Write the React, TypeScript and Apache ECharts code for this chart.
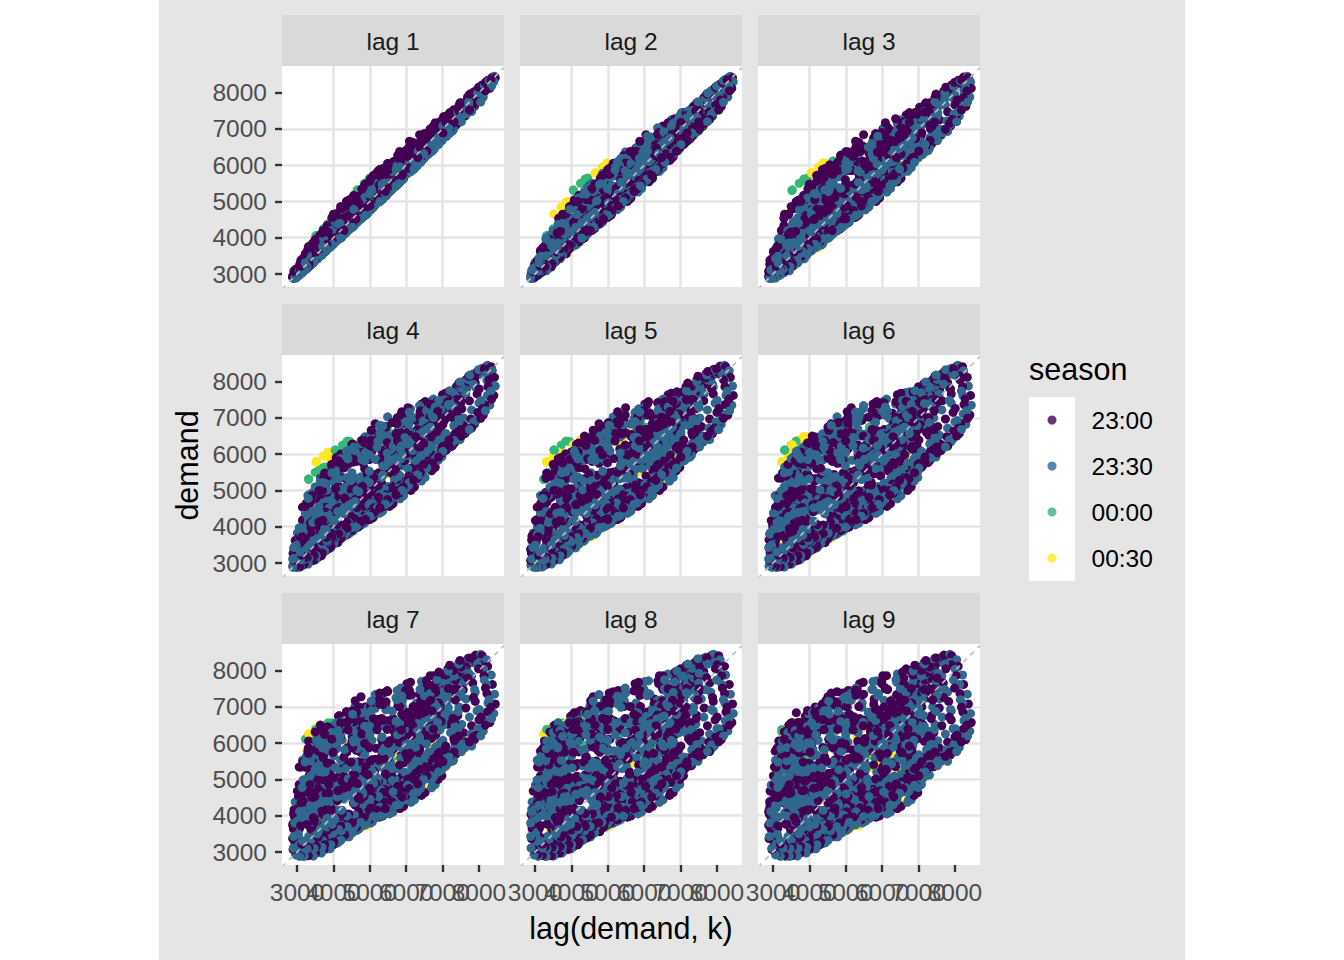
import React, { useEffect, useRef } from 'react'
import * as echarts from 'echarts'

// legend levels and their viridis colours
const SEASONS = ['23:00', '23:30', '00:00', '00:30']
const SEASON_COLORS = ['#440154', '#31688E', '#35B779', '#FDE725']
const LAGS = [1, 2, 3, 4, 5, 6, 7, 8, 9]
const TICKS = [3000, 4000, 5000, 6000, 7000, 8000]

// half-hourly demand, one array per day (00:00 ... 23:30)
const day01 = [4300, 4150, 4060, 3900, 3820, 3680, 3610, 3490, 3430, 3330, 3300, 3260, 3310, 3380, 3560, 3700, 3950, 4120, 4380, 4530,
  4720, 4800, 4960, 4930, 5060, 5010, 5130, 5080, 5170, 5110, 5200, 5150, 5290, 5380, 5420, 5340, 5200,
  5010, 4850, 4660, 4500, 4330, 4190, 4040, 3920, 3790, 3680, 3570]
const day02 = [3450, 3340, 3280, 3170, 3120, 3030, 3000, 2940, 2920, 2900, 2890, 2910, 2990, 3080, 3270, 3400, 3640, 3790, 4040, 4180,
  4390, 4460, 4610, 4580, 4700, 4650, 4760, 4700, 4780, 4720, 4800, 4750, 4900, 4990, 5050, 4980, 4850,
  4670, 4510, 4340, 4200, 4050, 3920, 3790, 3680, 3560, 3460, 3370]
const day03 = [3270, 3190, 3150, 3080, 3050, 2990, 2980, 2930, 2940, 2920, 2950, 3010, 3150, 3330, 3620, 3830, 4170, 4380, 4680, 4850,
  5100, 5150, 5330, 5290, 5440, 5380, 5510, 5450, 5560, 5490, 5590, 5530, 5700, 5820, 5880, 5800, 5640,
  5420, 5220, 5020, 4840, 4660, 4500, 4350, 4210, 4080, 3960, 3850]
const day04 = [3760, 3680, 3640, 3570, 3550, 3490, 3490, 3440, 3460, 3440, 3520, 3640, 3950, 4260, 4820, 5150, 5680, 5900, 6200, 6320,
  6480, 6450, 6560, 6500, 6600, 6530, 6620, 6560, 6660, 6600, 6710, 6660, 6830, 6950, 7000, 6900, 6720,
  6450, 6170, 5880, 5600, 5330, 5070, 4830, 4610, 4410, 4240, 4090]
const day05 = [3980, 3890, 3850, 3790, 3770, 3730, 3730, 3700, 3720, 3690, 3760, 3950, 4450, 5000, 5650, 6050, 6350, 6480, 6560, 6600,
  6750, 6680, 6720, 6620, 6650, 6560, 6600, 6530, 6610, 6570, 6680, 6650, 6820, 6950, 6990, 6880, 6700,
  6450, 6210, 5980, 5760, 5550, 5350, 5160, 4990, 4830, 4680, 4540]
const day06 = [4420, 4300, 4250, 4140, 4100, 4010, 4000, 3930, 3950, 3920, 4010, 4160, 4530, 4870, 5450, 5780, 6280, 6480, 6760, 6850,
  7000, 7010, 7130, 7110, 7220, 7200, 7310, 7290, 7390, 7360, 7450, 7420, 7530, 7580, 7560, 7440, 7250,
  7000, 6760, 6520, 6290, 6070, 5860, 5660, 5470, 5300, 5140, 4990]
const day07 = [4950, 4900, 4880, 4830, 4820, 4780, 4780, 4750, 4770, 4760, 4820, 4900, 5150, 5380, 5750, 6020, 6420, 6660, 7000, 7150,
  7380, 7450, 7640, 7700, 7860, 7910, 8050, 8090, 8210, 8240, 8340, 8370, 8430, 8450, 8410, 8300, 8120,
  7880, 7620, 7350, 7080, 6820, 6570, 6330, 6100, 5880, 5680, 5500]
const day08 = [5350, 5240, 5200, 5110, 5080, 5000, 4990, 4930, 4950, 4920, 4990, 5060, 5280, 5480, 5850, 6120, 6520, 6750, 7080, 7250,
  7450, 7520, 7680, 7720, 7860, 7900, 8010, 8030, 8130, 8140, 8210, 8220, 8250, 8230, 8160, 8040, 7860,
  7620, 7370, 7110, 6860, 6620, 6390, 6170, 5960, 5760, 5570, 5400]
const day09 = [5250, 5120, 5060, 4930, 4880, 4760, 4730, 4630, 4630, 4570, 4640, 4750, 5060, 5330, 5800, 6060, 6450, 6570, 6730, 6700,
  6680, 6560, 6540, 6410, 6390, 6270, 6260, 6150, 6160, 6070, 6100, 6030, 6150, 6240, 6260, 6150, 5980,
  5760, 5550, 5340, 5140, 4960, 4790, 4630, 4480, 4340, 4210, 4090]
const day10 = [3960, 3840, 3790, 3680, 3640, 3550, 3530, 3450, 3460, 3420, 3500, 3720, 4250, 4850, 5500, 5950, 6250, 6400, 6470, 6500,
  6530, 6470, 6520, 6430, 6480, 6400, 6460, 6390, 6460, 6420, 6520, 6490, 6660, 6780, 6820, 6720, 6540,
  6300, 6070, 5840, 5630, 5420, 5230, 5050, 4880, 4720, 4570, 4430]
const day11 = [4300, 4180, 4130, 4020, 3980, 3880, 3860, 3780, 3770, 3710, 3700, 3720, 3810, 3920, 4140, 4290, 4560, 4700, 4950, 5060,
  5250, 5290, 5420, 5380, 5490, 5440, 5540, 5490, 5570, 5510, 5590, 5540, 5690, 5780, 5810, 5720, 5570,
  5370, 5190, 5010, 4850, 4690, 4550, 4410, 4290, 4170, 4060, 3960]
const day12 = [3860, 3760, 3720, 3620, 3590, 3500, 3480, 3410, 3410, 3360, 3350, 3360, 3440, 3530, 3730, 3860, 4110, 4250, 4490, 4600,
  4790, 4840, 4970, 4940, 5050, 5000, 5100, 5040, 5120, 5060, 5140, 5090, 5230, 5320, 5350, 5270, 5130,
  4950, 4790, 4620, 4470, 4320, 4180, 4050, 3930, 3820, 3710, 3610]
const day13 = [3520, 3440, 3410, 3340, 3320, 3260, 3260, 3210, 3230, 3210, 3290, 3430, 3770, 4080, 4640, 4950, 5420, 5600, 5830, 5890,
  5980, 5940, 6010, 5950, 6020, 5960, 6030, 5980, 6060, 6010, 6100, 6060, 6210, 6320, 6350, 6260, 6100,
  5870, 5650, 5430, 5230, 5030, 4850, 4680, 4520, 4370, 4230, 4100]
const day14 = [3990, 3880, 3840, 3740, 3710, 3630, 3620, 3550, 3570, 3540, 3620, 3770, 4130, 4470, 5060, 5390, 5900, 6100, 6360, 6420,
  6530, 6500, 6580, 6540, 6620, 6580, 6660, 6620, 6700, 6660, 6750, 6720, 6880, 6990, 7020, 6920, 6740,
  6460, 6180, 5890, 5610, 5340, 5090, 4860, 4650, 4460, 4290, 4140]
const day15 = [4020, 3930, 3890, 3820, 3800, 3750, 3750, 3710, 3730, 3710, 4060, 4170, 4450, 4720, 5150, 5450, 5900, 6150, 6520, 6680,
  6900, 6960, 7140, 7180, 7330, 7360, 7480, 7500, 7580, 7570, 7650, 7640, 7740, 7800, 7780, 7660, 7470,
  7220, 6970, 6720, 6480, 6250, 6030, 5820, 5620, 5430, 5250, 5080]
const day16 = [4940, 4830, 4790, 4690, 4660, 4580, 4570, 4510, 4530, 4510, 4600, 4760, 5150, 5490, 6050, 6370, 6840, 7030, 7280, 7340,
  7420, 7380, 7350, 7180, 7010, 6780, 6570, 6330, 6150, 5930, 5780, 5600, 5620, 5680, 5690, 5590, 5460,
  5290, 5130, 4970, 4820, 4680, 4550, 4420, 4300, 4180, 4070, 3970]
const day17 = [3880, 3770, 3730, 3620, 3580, 3480, 3460, 3380, 3370, 3310, 3290, 3290, 3360, 3440, 3630, 3750, 3990, 4120, 4350, 4450,
  4630, 4670, 4790, 4760, 4860, 4810, 4900, 4850, 4920, 4860, 4930, 4880, 5010, 5090, 5110, 5030, 4890,
  4720, 4570, 4410, 4270, 4130, 4000, 3880, 3770, 3660, 3560, 3460]
const day18 = [3380, 3290, 3250, 3160, 3130, 3050, 3040, 2980, 2990, 2950, 2930, 2930, 3000, 3080, 3260, 3380, 3610, 3740, 3970, 4080,
  4260, 4310, 4440, 4420, 4530, 4490, 4590, 4550, 4630, 4580, 4660, 4620, 4760, 4850, 4880, 4810, 4680,
  4510, 4360, 4210, 4070, 3940, 3820, 3710, 3610, 3510, 3420, 3340]
const day19 = [3270, 3210, 3190, 3130, 3120, 3070, 3080, 3040, 3070, 3060, 3150, 3300, 3650, 3970, 4540, 4860, 5340, 5530, 5780, 5850,
  5950, 5920, 6000, 5960, 6040, 5990, 6070, 6020, 6100, 6050, 6150, 6110, 6270, 6370, 6400, 6310, 6140,
  5910, 5690, 5470, 5260, 5060, 4880, 4710, 4550, 4400, 4260, 4130]
const day20 = [4020, 3910, 3870, 3770, 3740, 3650, 3640, 3570, 3590, 3550, 3630, 3850, 4380, 4980, 5620, 6060, 6360, 6500, 6560, 6560,
  6600, 6530, 6570, 6480, 6520, 6440, 6490, 6420, 6490, 6450, 6550, 6520, 6690, 6810, 6840, 6740, 6560,
  6320, 6090, 5860, 5650, 5440, 5250, 5070, 4900, 4740, 4590, 4450]
const day21 = [4330, 4220, 4180, 4080, 4060, 3970, 3960, 3900, 3920, 3890, 3980, 4140, 4510, 4860, 5440, 5770, 6270, 6470, 6740, 6810,
  6930, 6920, 7010, 6990, 7070, 7040, 7110, 7090, 7150, 7120, 7190, 7160, 7280, 7330, 7310, 7190, 7000,
  6760, 6520, 6280, 6050, 5830, 5620, 5420, 5230, 5050, 4880, 4730]
const day22 = [4610, 4480, 4420, 4290, 4240, 4130, 4100, 4010, 4010, 3960, 4020, 4150, 4490, 4800, 5350, 5650, 6100, 6260, 6460, 6480,
  6540, 6480, 6520, 6440, 6480, 6400, 6450, 6390, 6450, 6410, 6500, 6470, 6620, 6720, 6740, 6630, 6450,
  6210, 5980, 5760, 5550, 5350, 5160, 4980, 4810, 4650, 4500, 4360]
const day23 = [4240, 4110, 4050, 3930, 3880, 3780, 3750, 3660, 3660, 3610, 3670, 3790, 4100, 4390, 4900, 5170, 5570, 5700, 5850, 5850,
  5880, 5830, 5860, 5790, 5820, 5760, 5800, 5750, 5810, 5770, 5850, 5820, 5960, 6050, 6070, 5980, 5820,
  5600, 5400, 5200, 5010, 4830, 4660, 4500, 4350, 4210, 4080, 3960]
const day24 = [3860, 3770, 3730, 3650, 3620, 3550, 3540, 3480, 3500, 3470, 3550, 3710, 4080, 4430, 5040, 5380, 5910, 6110, 6380, 6440,
  6560, 6540, 6630, 6600, 6680, 6650, 6730, 6700, 6780, 6750, 6840, 6810, 6960, 7060, 7080, 6980, 6800,
  6520, 6230, 5930, 5640, 5360, 5100, 4860, 4640, 4440, 4260, 4100]
const day25 = [4000, 3920, 3890, 3830, 3820, 3770, 3780, 3740, 3770, 3750, 3830, 3950, 4250, 4520, 4950, 5260, 5720, 5990, 6400, 6600,
  6900, 6980, 7200, 7250, 7440, 7480, 7640, 7680, 7800, 7830, 7900, 7900, 7950, 8000, 7970, 7850, 7660,
  7410, 7150, 6890, 6640, 6400, 6170, 5950, 5740, 5540, 5350, 5170]
const day26 = [5010, 4890, 4840, 4730, 4690, 4600, 4580, 4500, 4510, 4480, 4560, 4700, 5050, 5360, 5900, 6190, 6630, 6780, 7000, 7010,
  7060, 6990, 7010, 6920, 6940, 6860, 6880, 6810, 6850, 6800, 6860, 6820, 6940, 7010, 7010, 6900, 6720,
  6480, 6250, 6020, 5800, 5590, 5390, 5200, 5020, 4850, 4690, 4540]
const day27 = [4400, 4270, 4210, 4090, 4040, 3930, 3900, 3810, 3810, 3750, 3800, 3920, 4240, 4530, 5060, 5330, 5760, 5900, 6080, 6090,
  6140, 6080, 6110, 6030, 6060, 5990, 6030, 5970, 6030, 5990, 6070, 6040, 6190, 6280, 6300, 6210, 6040,
  5810, 5590, 5380, 5180, 4990, 4810, 4640, 4480, 4330, 4190, 4060]
const day28 = [3940, 3830, 3780, 3670, 3640, 3540, 3520, 3440, 3440, 3390, 3380, 3390, 3470, 3570, 3770, 3900, 4150, 4290, 4530, 4640,
  4830, 4880, 5010, 4980, 5090, 5050, 5150, 5100, 5180, 5130, 5210, 5170, 5320, 5410, 5440, 5360, 5220,
  5040, 4880, 4710, 4560, 4410, 4270, 4140, 4020, 3900, 3790, 3690]
const day29 = [3600, 3510, 3480, 3400, 3380, 3310, 3310, 3250, 3270, 3240, 3320, 3530, 4050, 4660, 5320, 5800, 6110, 6250, 6310, 6300,
  6220, 6180, 6240, 6180, 6240, 6180, 6240, 6190, 6260, 6220, 6310, 6280, 6440, 6550, 6580, 6490, 6310,
  6070, 5840, 5620, 5410, 5210, 5020, 4840, 4670, 4510, 4360, 4220]
const day30 = [4100, 3990, 3940, 3840, 3810, 3720, 3710, 3640, 3650, 3610, 3690, 3840, 4210, 4560, 5170, 5500, 6010, 6200, 6450, 6500,
  6590, 6550, 6620, 6570, 6640, 6590, 6660, 6610, 6690, 6640, 6730, 6690, 6850, 6950, 6980, 6880, 6700,
  6420, 6130, 5830, 5540, 5260, 5000, 4770, 4560, 4370, 4200, 4050]
const day31 = [3960, 3850, 3820, 3710, 3690, 3590, 3590, 3500, 3520, 3430, 3520, 3560, 3980, 4200, 4800, 5000, 5560, 5680, 6050, 5980,
  6200, 6050, 6260, 6080, 6300, 6110, 6330, 6150, 6380, 6200, 6440, 6260, 6520, 6600, 6700, 6520, 6400,
  6080, 5900, 5600, 5450, 5150, 5020, 4760, 4650, 4420, 4330, 4120]
const day32 = [3980, 3800, 3760, 3600, 3580, 3440, 3430, 3300, 3320, 3210, 3280, 3300, 3660, 3830, 4340, 4480, 4940, 5010, 5330, 5260,
  5450, 5300, 5480, 5320, 5500, 5340, 5530, 5360, 5560, 5390, 5600, 5430, 5700, 5760, 5850, 5680, 5580,
  5300, 5150, 4900, 4780, 4530, 4430, 4220, 4130, 3950, 3880, 3720]
const day33 = [3650, 3520, 3500, 3380, 3380, 3280, 3290, 3200, 3230, 3160, 3260, 3320, 3760, 4000, 4650, 4880, 5480, 5640, 6060, 6050,
  6320, 6230, 6500, 6400, 6680, 6580, 6850, 6740, 7000, 6890, 7160, 7030, 7340, 7450, 7600, 7420, 7300,
  6980, 6780, 6460, 6280, 5970, 5810, 5520, 5380, 5120, 5000, 4770]
const day34 = [4640, 4430, 4360, 4160, 4110, 3940, 3910, 3770, 3770, 3650, 3700, 3740, 4160, 4380, 5000, 5200, 5800, 5920, 6300, 6240,
  6480, 6330, 6540, 6380, 6580, 6420, 6620, 6460, 6660, 6500, 6700, 6540, 6800, 6880, 6980, 6800, 6680,
  6360, 6180, 5880, 5720, 5430, 5290, 5030, 4910, 4680, 4580, 4380]
const day35 = [4260, 4080, 4020, 3860, 3830, 3680, 3660, 3540, 3540, 3440, 3460, 3400, 3560, 3560, 3840, 3880, 4200, 4240, 4540, 4520,
  4750, 4660, 4860, 4760, 4950, 4840, 5020, 4900, 5070, 4950, 5110, 4990, 5230, 5280, 5360, 5220, 5130,
  4890, 4760, 4560, 4450, 4250, 4160, 3980, 3900, 3740, 3670, 3520]
const day36 = [3440, 3310, 3280, 3150, 3140, 3030, 3040, 2950, 2980, 2900, 2960, 2920, 3090, 3110, 3380, 3430, 3740, 3790, 4080, 4080,
  4300, 4220, 4410, 4320, 4500, 4400, 4570, 4460, 4620, 4510, 4660, 4550, 4780, 4830, 4910, 4780, 4700,
  4470, 4350, 4160, 4060, 3880, 3800, 3640, 3570, 3420, 3360, 3230]
const day37 = [3150, 3080, 3090, 3030, 3060, 3020, 3060, 3030, 3090, 3060, 3170, 3230, 3560, 3720, 4200, 4370, 4860, 4990, 5350, 5360,
  5600, 5530, 5760, 5680, 5880, 5780, 5970, 5860, 6050, 5940, 6130, 6020, 6310, 6400, 6520, 6380, 6260,
  5960, 5790, 5500, 5350, 5070, 4950, 4690, 4590, 4360, 4280, 4080]
const day38 = [3960, 3820, 3780, 3660, 3640, 3540, 3540, 3460, 3490, 3440, 3540, 3640, 4080, 4360, 5000, 5280, 5880, 6080, 6500, 6560,
  6840, 6840, 7080, 7080, 7320, 7310, 7530, 7510, 7720, 7690, 7880, 7850, 8010, 8060, 8100, 7930, 7800,
  7480, 7260, 6930, 6720, 6400, 6220, 5920, 5770, 5500, 5380, 5130]
const day39 = [5000, 4820, 4770, 4600, 4570, 4420, 4410, 4290, 4310, 4210, 4290, 4360, 4790, 5020, 5620, 5820, 6380, 6500, 6870, 6830,
  7020, 6880, 7010, 6840, 6930, 6750, 6820, 6620, 6690, 6490, 6560, 6370, 6480, 6520, 6590, 6420, 6310,
  5990, 5810, 5510, 5350, 5060, 4930, 4660, 4550, 4310, 4230, 4010]
const day40 = [3880, 3720, 3680, 3540, 3520, 3400, 3400, 3300, 3320, 3240, 3320, 3520, 4060, 4650, 5300, 5780, 6120, 6260, 6380, 6330,
  6240, 6110, 6300, 6160, 6340, 6190, 6360, 6210, 6390, 6230, 6420, 6260, 6560, 6640, 6750, 6580, 6460,
  6130, 5950, 5650, 5490, 5200, 5070, 4800, 4690, 4450, 4360, 4150]
const day41 = [4000, 3830, 3790, 3630, 3610, 3480, 3470, 3360, 3380, 3290, 3370, 3430, 3850, 4060, 4660, 4860, 5400, 5510, 5870, 5810,
  5980, 5850, 5990, 5860, 6000, 5870, 6020, 5890, 6060, 5930, 6120, 5990, 6290, 6370, 6470, 6310, 6200,
  5880, 5710, 5420, 5270, 4990, 4870, 4610, 4510, 4280, 4200, 4000]
const day42 = [3890, 3750, 3710, 3580, 3560, 3450, 3450, 3360, 3380, 3310, 3410, 3500, 3950, 4200, 4860, 5100, 5720, 5880, 6310, 6300,
  6560, 6470, 6680, 6600, 6800, 6720, 6900, 6810, 6990, 6890, 7070, 6960, 7220, 7310, 7400, 7230, 7110,
  6790, 6600, 6290, 6120, 5820, 5680, 5400, 5280, 5020, 4920, 4690]
const day43 = [4580, 4420, 4380, 4240, 4220, 4110, 4110, 4020, 4050, 3990, 4060, 4150, 4420, 4640, 5050, 5320, 5750, 5990, 6380, 6560,
  6850, 6900, 7160, 7200, 7450, 7480, 7720, 7750, 7960, 7990, 8150, 8180, 8280, 8330, 8350, 8180, 8050,
  7740, 7520, 7200, 6990, 6680, 6500, 6200, 6040, 5770, 5640, 5380]
const day44 = [5240, 5060, 5010, 4840, 4810, 4660, 4650, 4530, 4550, 4450, 4530, 4600, 5040, 5270, 5880, 6090, 6660, 6800, 7170, 7160,
  7380, 7300, 7460, 7370, 7500, 7400, 7510, 7390, 7480, 7350, 7430, 7290, 7420, 7450, 7500, 7320, 7190,
  6870, 6680, 6370, 6200, 5900, 5760, 5480, 5360, 5100, 5000, 4770]
const day45 = [4640, 4430, 4360, 4160, 4110, 3940, 3910, 3770, 3770, 3650, 3700, 3900, 4420, 5000, 5550, 5850, 6000, 5990, 6050, 5950,
  5960, 5780, 5880, 5700, 5800, 5620, 5720, 5550, 5660, 5490, 5610, 5450, 5700, 5790, 5880, 5720, 5620,
  5310, 5160, 4900, 4780, 4530, 4430, 4210, 4120, 3930, 3860, 3690]
const day46 = [3560, 3420, 3390, 3250, 3240, 3120, 3120, 3020, 3040, 2960, 3010, 2980, 3140, 3170, 3440, 3490, 3800, 3860, 4160, 4170,
  4400, 4330, 4530, 4450, 4630, 4540, 4700, 4600, 4760, 4650, 4800, 4690, 4920, 4980, 5060, 4920, 4840,
  4600, 4480, 4280, 4180, 3990, 3910, 3740, 3670, 3510, 3450, 3310]
const day47 = [3200, 3090, 3070, 2970, 2970, 2890, 2900, 2880, 2910, 2880, 2940, 2920, 3070, 3110, 3370, 3430, 3740, 3800, 4100, 4120,
  4360, 4290, 4500, 4420, 4610, 4520, 4690, 4590, 4760, 4650, 4800, 4700, 4950, 5020, 5110, 4970, 4890,
  4640, 4520, 4310, 4210, 4010, 3930, 3760, 3690, 3530, 3470, 3330]
const day48 = [3280, 3200, 3200, 3130, 3150, 3100, 3130, 3090, 3140, 3110, 3220, 3310, 3730, 3960, 4560, 4780, 5340, 5480, 5860, 5850,
  6110, 6030, 6250, 6170, 6380, 6290, 6480, 6390, 6570, 6470, 6650, 6540, 6830, 6920, 7020, 6850, 6730,
  6400, 6220, 5910, 5750, 5450, 5320, 5040, 4920, 4670, 4580, 4360]
const day49 = [4220, 4050, 4000, 3840, 3820, 3690, 3690, 3580, 3600, 3520, 3610, 3690, 4130, 4370, 5000, 5220, 5820, 5960, 6370, 6350,
  6570, 6460, 6650, 6550, 6730, 6620, 6780, 6670, 6830, 6710, 6870, 6750, 7010, 7090, 7180, 7010, 6890,
  6570, 6390, 6080, 5920, 5620, 5490, 5210, 5100, 4840, 4750, 4520]
const day50 = [4380, 4200, 4150, 3980, 3960, 3820, 3810, 3700, 3710, 3620, 3700, 3760, 4180, 4400, 5000, 5200, 5760, 5870, 6240, 6190,
  6360, 6230, 6370, 6230, 6360, 6210, 6330, 6180, 6300, 6140, 6260, 6100, 6330, 6390, 6480, 6320, 6210,
  5890, 5720, 5430, 5280, 5000, 4880, 4620, 4520, 4290, 4200, 3990]

const DAYS = [day01, day02, day03, day04, day05, day06, day07, day08, day09, day10, day11, day12, day13, day14, day15,
  day16, day17, day18, day19, day20, day21, day22, day23, day24, day25, day26, day27, day28, day29, day30,
  day31, day32, day33, day34, day35, day36, day37, day38, day39, day40, day41, day42, day43, day44, day45,
  day46, day47, day48, day49, day50]
// which pair of season levels a day's readings carry: 0 -> 23:00/23:30, 1 -> 00:00/00:30
const DAY_SEASON_PAIR = [0, 0, 0, 0, 1, 0, 0, 0, 0, 1, 0, 0, 0, 0, 0, 0, 0, 0, 0, 1, 0, 0, 0, 0, 0,
  0, 0, 0, 1, 0, 0, 0, 0, 0, 0, 0, 0, 0, 0, 1, 0, 0, 0, 0, 1, 0, 0, 0, 0, 0]

const FONT = '"Liberation Sans", Arial, sans-serif'
const PANEL_LEFT = [282, 520, 758]
const PANEL_TOP = [66, 355, 644]
const PANEL_W = 222
const PANEL_H = 221
const STRIP_H = 51
const X_MIN = 2587
const X_MAX = 8690
const Y_MIN = 2642
const Y_MAX = 8734

const demand: number[] = []
const season: number[] = []
DAYS.forEach((day, d) => {
  day.forEach((v, i) => {
    demand.push(v)
    season.push(DAY_SEASON_PAIR[d] * 2 + (i % 2))
  })
})

const lagPoints = (k: number) => {
  const back: number[][] = []
  const front: number[][] = []
  for (let t = k; t < demand.length; t++) {
    const p = [demand[t - k], demand[t], season[t]]
    if (season[t] >= 2) back.push(p)
    else front.push(p)
  }
  return { back, front }
}

// the empty labels at the panel edges keep ECharts from dropping the crowded 4000 / 7000 labels
const xLabel = (v: number) => (TICKS.includes(v) ? String(v) : '')
const yLabel = (v: number) => String(v)

const buildOption = () => {
  const grid: any[] = []
  const xAxis: any[] = []
  const yAxis: any[] = []
  const series: any[] = []
  const graphic: any[] = []

  LAGS.forEach((k, i) => {
    const row = Math.floor(i / 3)
    const col = i % 3
    const left = PANEL_LEFT[col]
    const top = PANEL_TOP[row]
    grid.push({ left, top, width: PANEL_W, height: PANEL_H, show: true, backgroundColor: '#ffffff', borderWidth: 0 })

    const axisCommon = {
      gridIndex: i,
      type: 'value',
      axisLine: { show: false },
      splitLine: { show: true, showMinLine: false, showMaxLine: false, lineStyle: { color: '#E5E5E5', width: 2.5 } },
    }
    const labelCommon = { margin: 15, fontSize: 24.5, color: '#4D4D4D', fontFamily: FONT, hideOverlap: false }
    xAxis.push({
      ...axisCommon,
      min: X_MIN,
      max: X_MAX,
      axisTick: { show: row === 2, length: 7, customValues: TICKS, lineStyle: { color: '#333333', width: 2.4 } },
      axisLabel: { ...labelCommon, show: row === 2, customValues: [X_MIN, ...TICKS, X_MAX], formatter: xLabel },
      ...(i === 7
        ? { name: 'lag(demand, k)', nameLocation: 'middle', nameGap: 47, nameTextStyle: { fontSize: 30.5, color: '#000000', fontFamily: FONT } }
        : {}),
    })
    yAxis.push({
      ...axisCommon,
      min: Y_MIN,
      max: Y_MAX,
      axisTick: { show: col === 0, length: 7, customValues: TICKS, lineStyle: { color: '#333333', width: 2.4 } },
      axisLabel: { ...labelCommon, show: col === 0, customValues: TICKS, showMinLabel: true, showMaxLabel: true, formatter: yLabel },
      ...(i === 3
        ? { name: 'demand', nameLocation: 'middle', nameGap: 80, nameRotate: 90, nameTextStyle: { fontSize: 30.5, color: '#000000', fontFamily: FONT } }
        : {}),
    })

    const { back, front } = lagPoints(k)
    series.push({
      type: 'line',
      xAxisIndex: i,
      yAxisIndex: i,
      data: [[X_MIN, X_MIN], [X_MAX, X_MAX]],
      symbol: 'none',
      silent: true,
      clip: true,
      lineStyle: { color: '#BEBEBE', width: 1.6, type: [5, 5] },
    })
    const pointColor = (p: any) => SEASON_COLORS[p.data[2]]
    series.push({ type: 'scatter', name: 'lag' + k + '-b', xAxisIndex: i, yAxisIndex: i, data: back, symbolSize: 9, silent: true, itemStyle: { color: pointColor, opacity: 1 } })
    series.push({ type: 'scatter', name: 'lag' + k + '-f', xAxisIndex: i, yAxisIndex: i, data: front, symbolSize: 9, silent: true, itemStyle: { color: pointColor, opacity: 1 } })

    graphic.push({ type: 'rect', shape: { x: left, y: top - STRIP_H, width: PANEL_W, height: STRIP_H }, style: { fill: '#D9D9D9' }, silent: true })
    graphic.push({
      type: 'text',
      x: left + PANEL_W / 2,
      y: top - STRIP_H / 2 + 1,
      style: { text: 'lag ' + k, fill: '#1A1A1A', fontSize: 24.5, fontFamily: FONT, align: 'center', verticalAlign: 'middle' },
      silent: true,
    })
  })

  // legend entries only
  SEASONS.forEach((s, j) => {
    series.push({ type: 'scatter', name: s, xAxisIndex: 0, yAxisIndex: 0, data: [], itemStyle: { color: SEASON_COLORS[j] } })
  })

  graphic.push({ type: 'rect', shape: { x: 1029, y: 397, width: 46, height: 184 }, style: { fill: '#ffffff' }, silent: true })
  graphic.push({
    type: 'text',
    x: 1029,
    y: 369,
    style: { text: 'season', fill: '#000000', fontSize: 30.5, fontFamily: FONT, align: 'left', verticalAlign: 'middle' },
    silent: true,
  })

  return {
    animation: false,
    backgroundColor: 'transparent',
    textStyle: { fontFamily: FONT },
    grid,
    xAxis,
    yAxis,
    series,
    graphic: { elements: graphic },
    legend: {
      data: SEASONS,
      orient: 'vertical',
      left: 1047.5,
      top: 407,
      padding: 0,
      icon: 'circle',
      itemWidth: 9,
      itemHeight: 9,
      itemGap: 20,
      selectedMode: false,
      textStyle: { fontSize: 24.5, color: '#000000', fontFamily: FONT, lineHeight: 26, padding: [0, 0, 0, 30] },
    },
  }
}

export default function App() {
  const ref = useRef<HTMLDivElement>(null)

  useEffect(() => {
    if (!ref.current) return
    const chart = echarts.init(ref.current, null, { renderer: 'svg' })
    chart.setOption(buildOption())
    return () => chart.dispose()
  }, [])

  return (
    <div style={{ position: 'fixed', left: 0, top: 0, width: 1344, height: 960, background: '#ffffff' }}>
      <div style={{ position: 'absolute', left: 159, top: 0, width: 1026, height: 960, background: '#E5E5E5' }} />
      <div ref={ref} style={{ position: 'absolute', left: 0, top: 0, width: 1344, height: 960 }} />
    </div>
  )
}
